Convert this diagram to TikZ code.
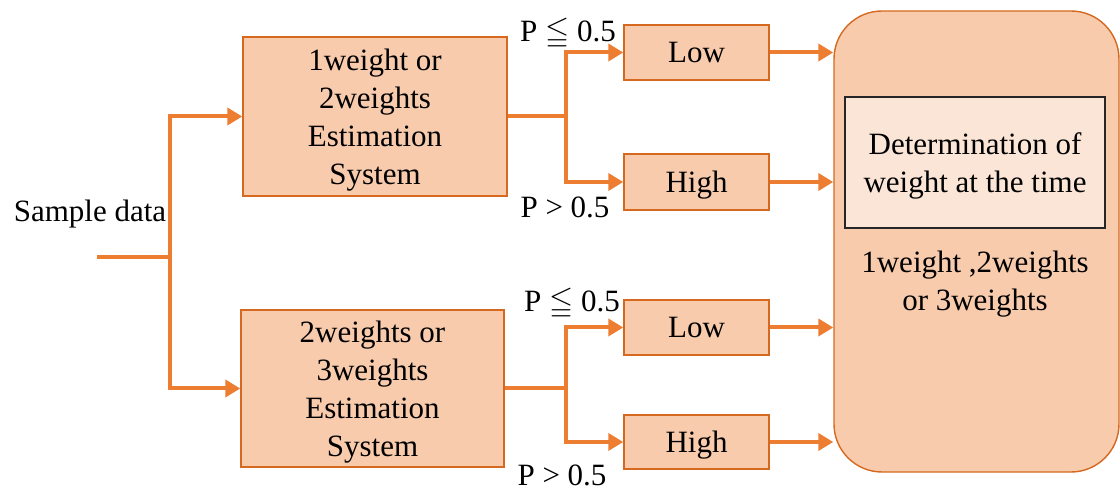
\documentclass[tikz,border=0pt]{standalone}
\usepackage{amssymb}
\usepackage{fontspec}
\setmainfont{Liberation Serif}
\usetikzlibrary{arrows.meta}
\definecolor{peach}{HTML}{F8CBAD}
\definecolor{paleorange}{HTML}{FBE5D6}
\definecolor{boxedge}{HTML}{D4691F}
\definecolor{flowline}{HTML}{ED7D31}
\begin{document}
\begin{tikzpicture}[x=0.5pt,y=-0.5pt,
  font=\fontsize{15.5}{19}\selectfont,
  block/.style={draw=boxedge,line width=0.7pt,fill=peach,align=center,inner sep=0pt,text depth=0pt},
  innerblock/.style={draw=black!85,line width=0.7pt,fill=paleorange,align=center,inner sep=0pt,text depth=0pt},
  wire/.style={draw=flowline,line width=2pt},
  flow/.style={wire,-{Triangle[length=7.5pt,width=8.5pt]}},
  label/.style={inner sep=0pt,align=center}]
\useasboundingbox (0,0) rectangle (1120,491);

% estimation systems
\node[block,minimum width=132pt,minimum height=79.5pt] (est1) at (375,116.5)
  {1weight or\\2weights\\Estimation\\System};
\node[block,minimum width=131.5pt,minimum height=78.5pt] (est2) at (372.5,388.5)
  {2weights or\\3weights\\Estimation\\System};

% low / high results
\node[block,minimum width=72.5pt,minimum height=27.5pt] (low1) at (696.5,52.5) {Low};
\node[block,minimum width=72.5pt,minimum height=28pt] (high1) at (696.5,182) {High};
\node[block,minimum width=72.5pt,minimum height=27.5pt] (low2) at (696.5,327.5) {Low};
\node[block,minimum width=72.5pt,minimum height=27pt] (high2) at (696.5,442) {High};

% determination block
\node[block,rounded corners=24pt,minimum width=142.5pt,minimum height=230.5pt] (det) at (976.5,241.5) {};
\node[innerblock,minimum width=130pt,minimum height=65.5pt] (detin) at (975,162.5)
  {Determination of\\weight at the time};
\node[label] (result) at (975,284) {1weight ,2weights\\or 3weights};

% input
\node[label] (sample) at (90,214) {Sample data};
\coordinate (in) at (97,257);
\coordinate (split) at (170,257);
\draw[wire] (in) -- (split);
\draw[flow] (split) |- (est1.west);
\draw[flow] (split) |- (est2.west);

% branches of the first system
\coordinate (s1) at (566,116.5);
\draw[wire] (est1.east) -- (s1);
\draw[flow] (s1) |- (low1.west);
\draw[flow] (s1) |- (high1.west);

% branches of the second system
\coordinate (s2) at (566,388.5);
\draw[wire] (est2.east) -- (s2);
\draw[flow] (s2) |- (low2.west);
\draw[flow] (s2) |- (high2.west);

% into the determination block
\draw[flow] (low1.east) -- (det.west |- low1.east);
\draw[flow] (high1.east) -- (det.west |- high1.east);
\draw[flow] (low2.east) -- (det.west |- low2.east);
\draw[flow] (high2.east) -- (det.west |- high2.east);

% thresholds
\node[label] (p1) at (568,34) {P $\leqq$ 0.5};
\node[label] (p2) at (565,207) {P > 0.5};
\node[label] (p3) at (572,304) {P $\leqq$ 0.5};
\node[label] (p4) at (562,475) {P > 0.5};
\end{tikzpicture}
\end{document}
